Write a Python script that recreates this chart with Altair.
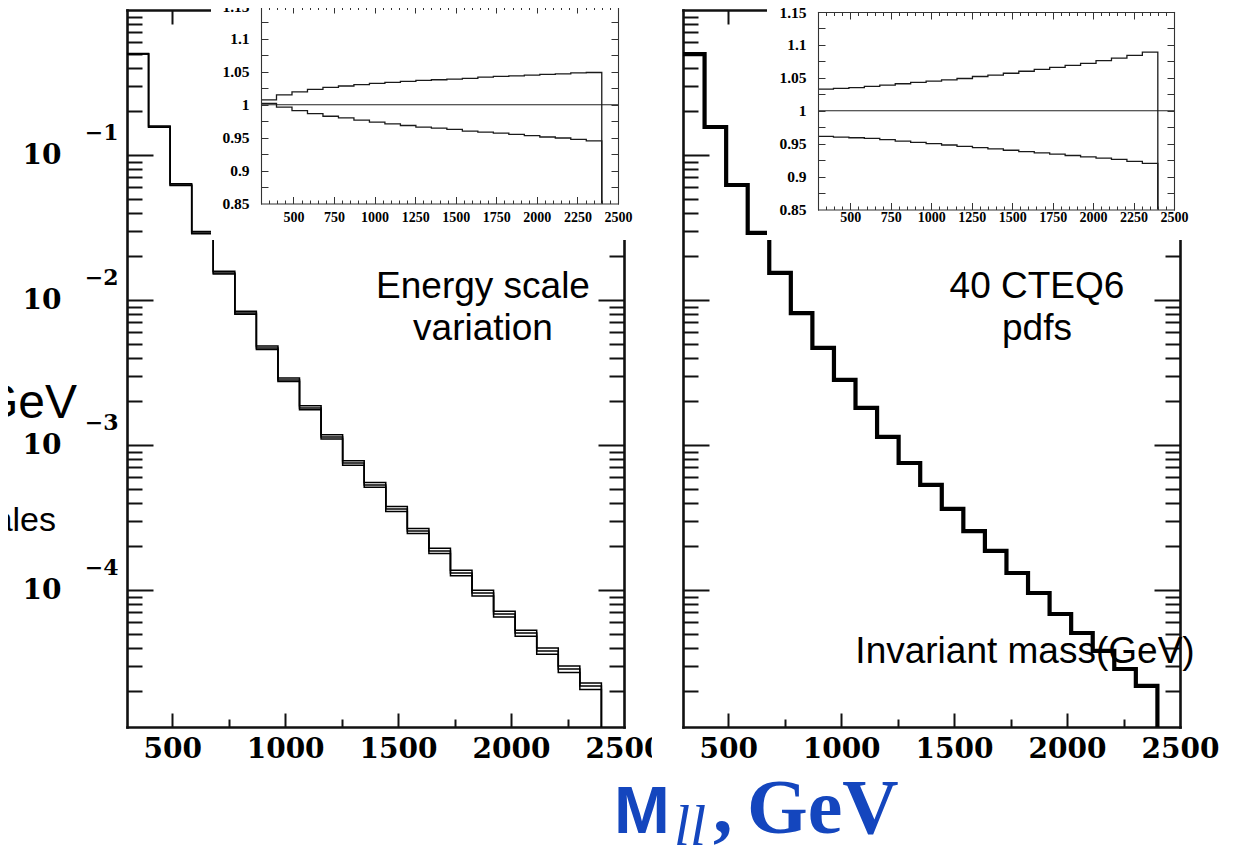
import altair as alt
import pandas as pd

# ---------------- data ----------------
edges = [300, 395.5, 491, 586.4, 681.8, 777.3, 872.7, 968.2, 1063.6, 1159.1, 1254.5,
         1350, 1445.5, 1540.9, 1636.4, 1731.8, 1827.3, 1922.7, 2018.2, 2113.6, 2209.1,
         2304.5, 2400]

nominal = [0.497, 0.156, 0.0621, 0.0290, 0.01536, 0.00813, 0.00467, 0.00281, 0.00180,
           0.001136, 0.000751, 0.000530, 0.000362, 0.000255, 0.000186, 0.000131,
           0.0000953, 0.0000683, 0.0000505, 0.0000380, 0.0000285, 0.0000218]

es_up = [1.0075, 1.015, 1.0195, 1.0235, 1.0265, 1.0285, 1.0305, 1.0325, 1.034, 1.0355,
         1.037, 1.038, 1.039, 1.040, 1.042, 1.043, 1.044, 1.045, 1.046, 1.047, 1.0485, 1.049]
es_down = [1.002, 0.9965, 0.991, 0.9865, 0.9825, 0.98, 0.9765, 0.9735, 0.971, 0.9685,
           0.966, 0.9645, 0.9625, 0.96, 0.9585, 0.957, 0.955, 0.953, 0.951, 0.9495, 0.9475, 0.945]

pdf_up = [1.033, 1.034, 1.035, 1.037, 1.039, 1.041, 1.043, 1.045, 1.047, 1.049, 1.052,
          1.054, 1.057, 1.060, 1.063, 1.066, 1.069, 1.072, 1.076, 1.080, 1.084, 1.089]
pdf_down = [0.961, 0.960, 0.959, 0.958, 0.956, 0.954, 0.952, 0.950, 0.948, 0.946, 0.944,
            0.942, 0.940, 0.938, 0.936, 0.934, 0.932, 0.930, 0.928, 0.926, 0.923, 0.920]

x_major = [500, 1000, 1500, 2000]
x_minor = [750, 1250, 1750, 2250]
x_labels = [500, 1000, 1500, 2000, 2500]
y_decades = [1e-1, 1e-2, 1e-3, 1e-4]
MAIN_X_DOM = [300, 2500]
MAIN_Y_DOM = [1.135e-5, 1.0]
y_minor = [k * 10.0 ** e for e in range(-5, 0) for k in range(2, 10)
           if MAIN_Y_DOM[0] <= k * 10.0 ** e <= MAIN_Y_DOM[1]]

INSET_Y_DOM = [0.85, 1.15]
inset_x_major = [500, 750, 1000, 1250, 1500, 1750, 2000, 2250]
inset_x_minor = [v for v in range(350, 2500, 50) if v not in inset_x_major]
inset_x_labels = [500, 750, 1000, 1250, 1500, 1750, 2000, 2250, 2500]
inset_y_ticks = [0.875, 0.9, 0.925, 0.95, 0.975, 1.0, 1.025, 1.05, 1.075, 1.1, 1.125]
inset_y_labels = [0.85, 0.9, 0.95, 1.0, 1.05, 1.1, 1.15]
unity = [1.0, 1.0]

# ---------------- geometry (page pixels) ----------------
W, H = 1225, 840
M0 = 8
LEFT_MAIN = (127, 624, 727, 10)      # x0, x1, ybottom, ytop
RIGHT_MAIN = (683, 1180, 727, 10)
LEFT_INSET = (261, 618, 203.5, 6)
RIGHT_INSET = (818, 1174, 209.5, 12)


def px(v):
    return v - M0


def xscale(g, dom):
    return alt.Scale(domain=dom, range=[px(g[0]), px(g[1])], nice=False, zero=False)


def yscale(g, dom, log=False):
    if log:
        return alt.Scale(type="log", domain=dom, range=[px(g[2]), px(g[3])], nice=False)
    return alt.Scale(domain=dom, range=[px(g[2]), px(g[3])], nice=False, zero=False)


def axis_layer(channel, scale, values, orient, at, **kw):
    c = px(at)
    if orient == "left":
        off = -c
    elif orient == "right":
        off = -(W - c)
    elif orient == "top":
        off = -c
    else:
        off = -(H - c)
    base = dict(orient=orient, offset=off, values=values, title=None, grid=False)
    base.update(kw)
    df = pd.DataFrame({"v": values})
    if channel == "x":
        enc = {"x": alt.X("v:Q", scale=scale, axis=alt.Axis(**base))}
    else:
        enc = {"y": alt.Y("v:Q", scale=scale, axis=alt.Axis(**base))}
    return alt.Chart(df).mark_point(opacity=0).encode(**enc)


def ticks_only(color, tw, dw, z):
    return dict(labels=False, tickColor=color, tickWidth=tw, domainColor=color,
                domainWidth=dw, domainCap="square", zindex=z)


def frame(g, xs, ys, xmaj, xmin, ymaj, ymin, smaj_x, smin_x, smaj_y, smin_y, color, tw, dw, z):
    x0, x1, yb, yt = g
    L = []
    t = ticks_only(color, tw, dw, z)
    L.append(axis_layer("y", ys, ymin, "right", x0, tickSize=smin_y, domain=True, **t))
    if ymaj:
        L.append(axis_layer("y", ys, ymaj, "right", x0, tickSize=smaj_y, domain=False, **t))
    L.append(axis_layer("y", ys, ymin, "left", x1, tickSize=smin_y, domain=True, **t))
    if ymaj:
        L.append(axis_layer("y", ys, ymaj, "left", x1, tickSize=smaj_y, domain=False, **t))
    L.append(axis_layer("x", xs, xmaj, "top", yb, tickSize=smaj_x, domain=True, **t))
    L.append(axis_layer("x", xs, xmin, "top", yb, tickSize=smin_x, domain=False, **t))
    L.append(axis_layer("x", xs, xmaj, "bottom", yt, tickSize=smaj_x, domain=True, **t))
    L.append(axis_layer("x", xs, xmin, "bottom", yt, tickSize=smin_x, domain=False, **t))
    return L


def step_df(values, series, floor):
    rows = []
    for i, v in enumerate(values):
        rows.append({"x": edges[i], "y": v, "s": series, "o": i})
    rows.append({"x": edges[-1], "y": values[-1], "s": series, "o": len(values)})
    rows.append({"x": edges[-1], "y": floor, "s": series, "o": len(values) + 1})
    return rows


def step_layer(rows, xs, ys, width, color="black"):
    df = pd.DataFrame(rows)
    return alt.Chart(df).mark_line(interpolate="step-after", strokeWidth=width,
                                   color=color, strokeJoin="miter").encode(
        x=alt.X("x:Q", scale=xs, axis=None),
        y=alt.Y("y:Q", scale=ys, axis=None),
        detail="s:N",
        order="o:Q",
    )


def white_box(x0, x1, y0, y1):
    return alt.Chart(pd.DataFrame({"a": [0]})).mark_rect(color="white").encode(
        x=alt.value(px(x0)), x2=alt.value(px(x1)), y=alt.value(max(px(y0), 0)),
        y2=alt.value(px(y1)))


MAIN_COL = "#111111"
layers = []

# ---------------- main panels ----------------
for g, kind in [(LEFT_MAIN, "es"), (RIGHT_MAIN, "pdf")]:
    xs = xscale(g, MAIN_X_DOM)
    ys = yscale(g, MAIN_Y_DOM, log=True)
    if kind == "es":
        up = [n * r for n, r in zip(nominal, es_up)]
        dn = [n * r for n, r in zip(nominal, es_down)]
        rows = (step_df(up, "up", MAIN_Y_DOM[0]) + step_df(nominal, "nom", MAIN_Y_DOM[0])
                + step_df(dn, "dn", MAIN_Y_DOM[0]))
        layers.append(step_layer(rows, xs, ys, 1.5))
    else:
        rows = step_df(nominal, "nom", MAIN_Y_DOM[0])
        layers.append(step_layer(rows, xs, ys, 4.2))
    layers += frame(g, xs, ys, x_major, x_minor, y_decades, y_minor,
                    14, 8, 26, 15, MAIN_COL, 2, 2.6, 0)
    layers.append(axis_layer("x", xs, x_labels, "bottom", g[2], ticks=False, tickSize=0,
                             domain=False, labelPadding=8, labelFont="DejaVu Serif",
                             labelFontWeight="bold", labelFontSize=28, labelColor="black",
                             format="d", labelFlush=False, labelOverlap=False,
                             labelBaseline="top"))
    if kind == "es":
        layers.append(axis_layer("y", ys, y_decades, "left", g[0], ticks=False, tickSize=0,
                                 domain=False, labelPadding=66, labelFont="DejaVu Serif",
                                 labelFontWeight="bold", labelFontSize=28, labelColor="black",
                                 labelExpr="'10'", labelBaseline="middle", labelOffset=1,
                                 labelFlush=False, labelOverlap=False))
        layers.append(axis_layer("y", ys, y_decades, "left", g[0], ticks=False, tickSize=0,
                                 domain=False, labelPadding=9, labelFont="DejaVu Serif",
                                 labelFontWeight="bold", labelFontSize=22, labelColor="black",
                                 labelExpr="'\u2212' + round(-log(datum.value)/LN10)",
                                 labelBaseline="middle", labelOffset=-22,
                                 labelFlush=False, labelOverlap=False))

# the right slide picture overlaps the end of the left panel's last label
layers.append(white_box(652, 681, 735, 768))

# ---------------- white inset boxes ----------------
layers.append(white_box(211, 645, 0, 240))
layers.append(white_box(767, 1210, 0, 240))

# ---------------- insets ----------------
INS_COL = "#333333"
for g, up, dn, lab_pad in [(LEFT_INSET, es_up, es_down, 7), (RIGHT_INSET, pdf_up, pdf_down, 1)]:
    xs = xscale(g, MAIN_X_DOM)
    ys = yscale(g, INSET_Y_DOM)
    line_df = pd.DataFrame({"x": MAIN_X_DOM, "y": unity})
    layers.append(alt.Chart(line_df).mark_line(color="#222222", strokeWidth=1.1).encode(
        x=alt.X("x:Q", scale=xs, axis=None), y=alt.Y("y:Q", scale=ys, axis=None)))
    rows = step_df(up, "up", INSET_Y_DOM[0]) + step_df(dn, "dn", INSET_Y_DOM[0])
    layers.append(step_layer(rows, xs, ys, 1.3, color="#1a1a1a"))
    layers += frame(g, xs, ys, inset_x_major, inset_x_minor, [], inset_y_ticks,
                    7, 3.5, 7, 7, INS_COL, 1, 1.1, 1)
    layers.append(axis_layer("x", xs, inset_x_labels, "bottom", g[2], ticks=False, tickSize=0,
                             domain=False, labelPadding=lab_pad, labelFont="Liberation Serif",
                             labelFontWeight="bold", labelFontSize=14, labelColor="black",
                             format="d", labelFlush=False, labelOverlap=False,
                             labelBaseline="top", zindex=1))
    layers.append(axis_layer("y", ys, inset_y_labels, "left", g[0], ticks=False, tickSize=0,
                             domain=False, labelPadding=12, labelFont="Liberation Serif",
                             labelFontWeight="bold", labelFontSize=15.5, labelColor="black",
                             format="~g", labelBaseline="middle", labelFlush=False,
                             labelOverlap=False, zindex=1))


# ---------------- text annotations ----------------
def text_layer(txt, x, y, size, font="Liberation Sans", align="center", weight="normal",
               style="normal", color="black", line_h=None):
    props = dict(align=align, baseline="alphabetic", fontSize=size, font=font,
                 fontWeight=weight, fontStyle=style, color=color, lineBreak="\n")
    if line_h:
        props["lineHeight"] = line_h
    return alt.Chart(pd.DataFrame({"t": [txt]})).mark_text(**props).encode(
        text="t:N", x=alt.value(px(x)), y=alt.value(px(y)))


layers.append(text_layer("Energy scale\nvariation", 483, 298, 37, line_h=42))
layers.append(text_layer("40 CTEQ6\npdfs", 1037, 298, 37, line_h=42))
layers.append(text_layer("Invariant mass(GeV)", 1025, 663, 37))
layers.append(text_layer("GeV", 77, 418, 48, align="right"))
layers.append(text_layer("ales", 56, 531, 34, align="right"))

BLUE = "#1446BE"
layers.append(text_layer("M", 614, 833, 67, font="Liberation Sans", align="left",
                         weight="bold", color=BLUE))
layers.append(text_layer("ll", 674, 845, 58, font="Liberation Serif", align="left",
                         style="italic", color=BLUE))
layers.append(text_layer(",", 713, 833, 78, font="Liberation Serif", align="left",
                         weight="bold", color=BLUE))
layers.append(text_layer("GeV", 747, 833, 78, font="Liberation Serif", align="left",
                         weight="bold", color=BLUE))

chart = alt.layer(*layers).resolve_scale(x="independent", y="independent").properties(
    width=W, height=H, autosize=alt.AutoSizeParams(type="none"), padding=0,
    background="white"
).configure_view(stroke=None)

chart.save("out.html", embed_options={"renderer": "svg", "actions": False})
